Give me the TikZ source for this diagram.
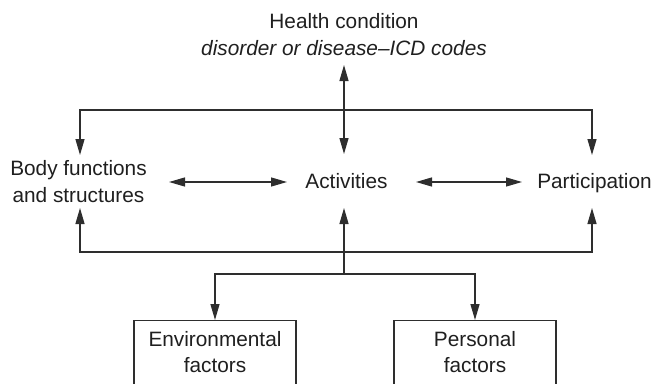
\documentclass[tikz,border=0pt]{standalone}
\usepackage{fontspec}
\setmainfont{Liberation Sans}
\usetikzlibrary{arrows.meta}
\tikzset{
  >={Triangle[length=16pt,width=9pt]},
  conn/.style={line width=1.3pt, draw=black!82},
  lbl/.style={font=\fontsize{20.8}{26.5}\selectfont, align=center, inner sep=0pt, anchor=base, text=black!88},
  factorbox/.style={lbl, draw=black!82, line width=1.3pt, anchor=north, minimum width=162pt,
    inner xsep=0pt, inner ysep=7pt, text height=45pt, text depth=30pt},
}
\begin{document}
\begin{tikzpicture}[x=1pt,y=-1pt]
\useasboundingbox (0,0) rectangle (655,383);
\clip (0,0) rectangle (655,383);
% texts (multi-line nodes: base anchor is the last line)
\node[lbl] (hc) at (344,55) {Health condition\\\textit{disorder or disease\textendash ICD codes}};
\node[lbl] (body) at (78.5,202) {Body functions\\and structures};
\node[lbl] (act) at (346.5,188) {Activities};
\node[lbl] (part) at (594.5,188) {Participation};
\node[factorbox] (env) at (215,320) {Environmental\\factors};
\node[factorbox] (pers) at (475,320) {Personal\\factors};
% junction coordinates
\coordinate (hcIn) at (344,65);
\coordinate (actTop) at (344,154);
\coordinate (actBot) at (344,208);
\coordinate (bodyTop) at (80,155);
\coordinate (bodyBot) at (80,208);
\coordinate (partTop) at (592,155);
\coordinate (partBot) at (592,208);
\coordinate (topL) at (80,110);
\coordinate (topR) at (592,110);
\coordinate (botL) at (80,252);
\coordinate (botR) at (592,252);
\coordinate (junc) at (344,274);
\coordinate (juncL) at (215,274);
\coordinate (juncR) at (475,274);
\coordinate (bodyR) at (169,182);
\coordinate (actL) at (287,182);
\coordinate (actR) at (416,182);
\coordinate (partL) at (522,182);
% connectors
\draw[conn,<->] (hcIn) -- (actTop);
\draw[conn,<->] (bodyTop) -- (topL) -- (topR) -- (partTop);
\draw[conn,<->] (bodyR) -- (actL);
\draw[conn,<->] (actR) -- (partL);
\draw[conn,<->] (bodyBot) -- (botL) -- (botR) -- (partBot);
\draw[conn,->] (junc) -- (actBot);
\draw[conn,<->] (env.north) -- (juncL) -- (juncR) -- (pers.north);
\end{tikzpicture}
\end{document}
